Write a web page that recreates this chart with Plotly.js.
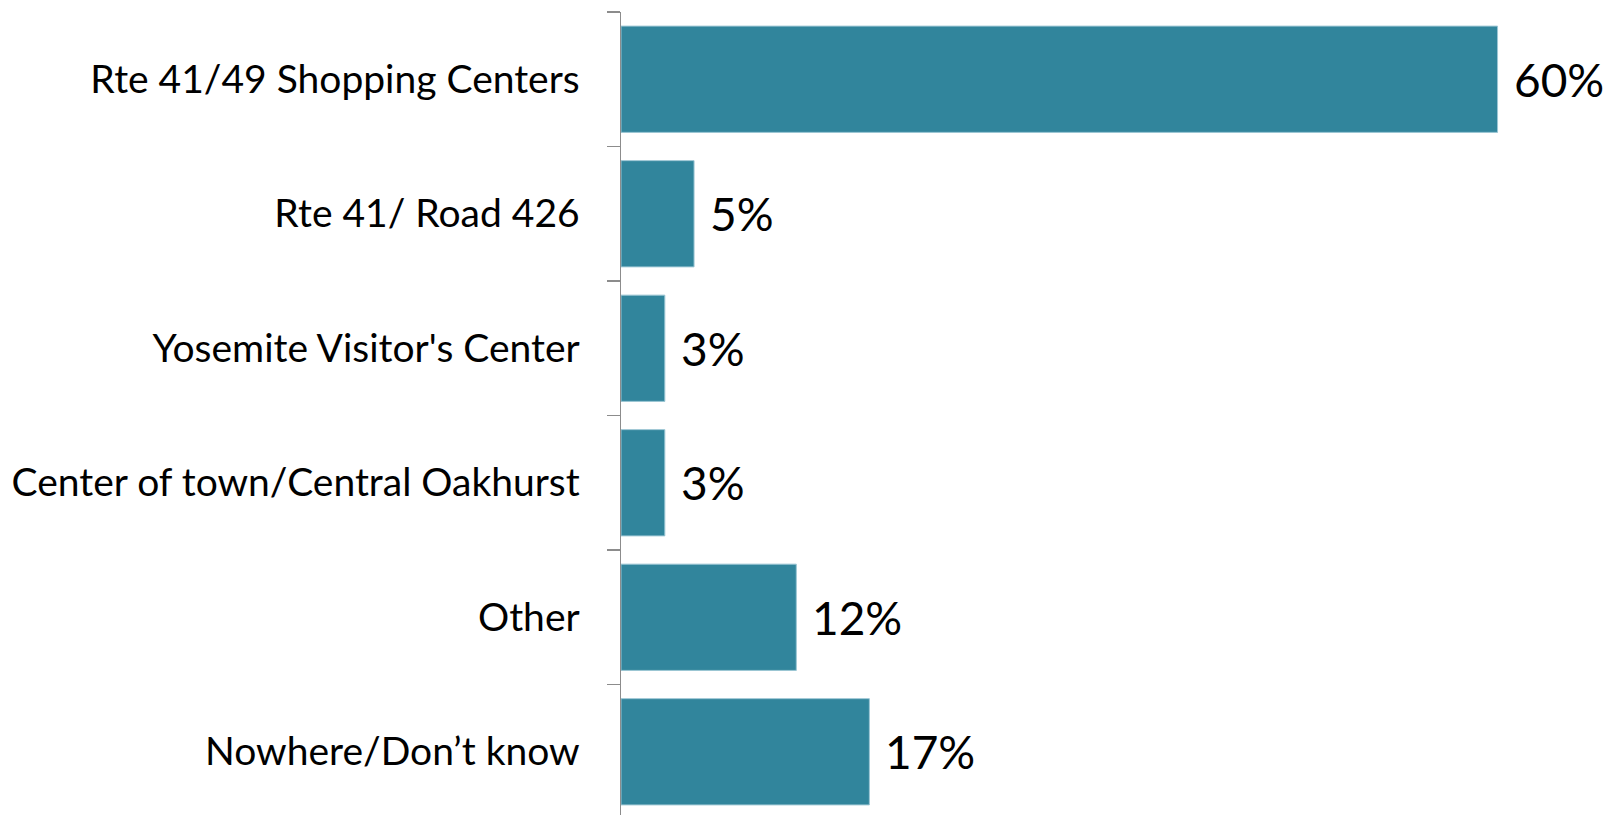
<!DOCTYPE html>
<html><head><meta charset="utf-8">
<script src="https://cdn.plot.ly/plotly-3.0.1.min.js"></script>
<style>html,body{margin:0;padding:0;background:#fff;}#chart{width:1614px;height:815px;}</style>
</head><body><div id="chart"></div>
<script>
const categories = ["Rte 41/49 Shopping Centers","Rte 41/ Road 426","Yosemite Visitor's Center","Center of town/Central Oakhurst","Other","Nowhere/Don\u2019t know"];
const values = [60,5,3,3,12,17];
const labels = ["60%","5%","3%","3%","12%","17%"];

const barColor = "#31859C";
const font = "Lato, 'Open Sans', sans-serif";

const trace = {
  type: "bar", orientation: "h",
  x: values, y: categories,
  marker: {color: barColor, line: {color: "#9cc6d4", width: 1}},
  width: 0.79, hoverinfo: "none"
};
const annotations = values.map((v,i)=>({
  x: v, y: categories[i], xref: "x", yref: "y",
  text: labels[i], showarrow: false, xanchor: "left", yanchor: "middle",
  xshift: 14, font: {family: font, size: 46, color: "#000"}
}));
const layout = {
  width: 1614, height: 815,
  margin: {l: 621, r: 0, t: 12, b: 0, pad: 0},
  paper_bgcolor: "#fff", plot_bgcolor: "#fff",
  showlegend: false,
  xaxis: {range: [0, 67.97], visible: false, fixedrange: true},
  yaxis: {
    type: "category", range: [5.47, -0.5], showline: true, linecolor: "#8c8c8c", linewidth: 1.5,
    ticks: "outside", ticklen: 13, tickcolor: "#8c8c8c", tickwidth: 1.5, tickson: "boundaries",
    ticklabelstandoff: 32, showgrid: false, zeroline: false,
    tickfont: {family: font, size: 39, color: "#000"}
  },
  annotations: annotations
};
Plotly.newPlot("chart", [trace], layout, {displayModeBar: false, staticPlot: true});
</script></body></html>
